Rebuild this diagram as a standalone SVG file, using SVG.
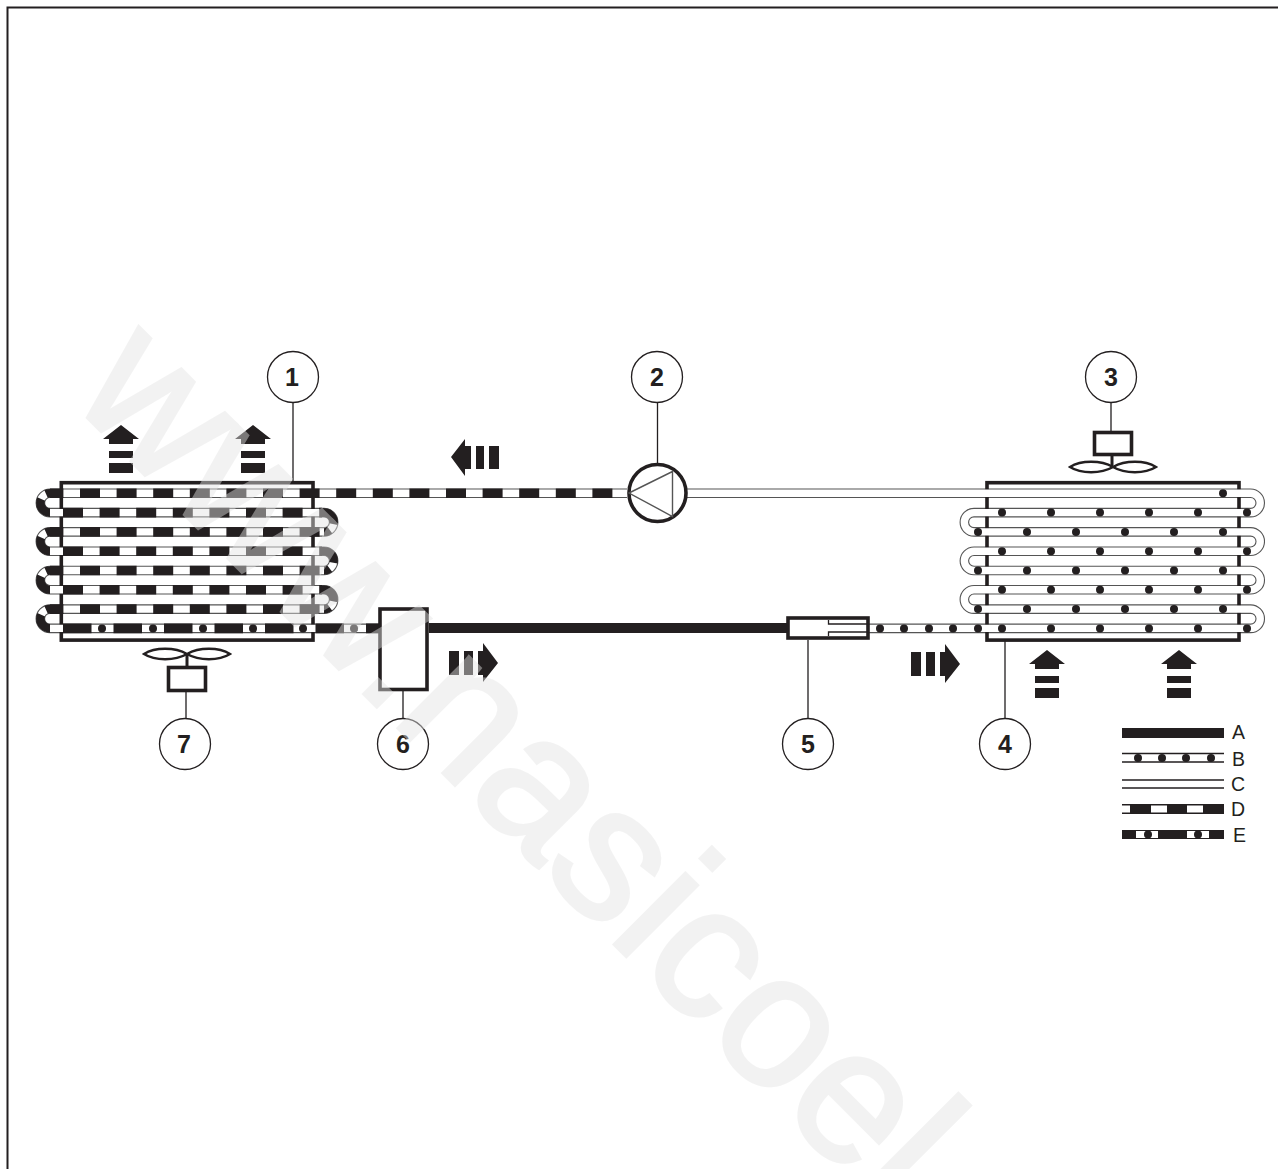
<svg xmlns="http://www.w3.org/2000/svg" xmlns:xlink="http://www.w3.org/1999/xlink" width="1278" height="1169" viewBox="0 0 1278 1169">
<style>
.frame{fill:none;stroke:#231f20;stroke-width:3.6}
.box{fill:#fff;stroke:#231f20;stroke-width:3.6}
.thin{fill:none;stroke:#231f20;stroke-width:1.3}
.outer{fill:none;stroke:#555;stroke-width:9.6}
.inner{fill:none;stroke:#fff;stroke-width:7.4}
.dd{fill:none;stroke:#231f20;stroke-width:9.6;stroke-dasharray:20 16.6}
.ee{fill:none;stroke:#231f20;stroke-width:9.6;stroke-dasharray:28.5 22}
.dot{fill:#231f20}
.ink{fill:#231f20}
.call{fill:#fff;stroke:#231f20;stroke-width:1.3}
.num{font:bold 25px "Liberation Sans",Arial,sans-serif;fill:#231f20;text-anchor:middle}
.leg{font:19.5px "Liberation Sans",Arial,sans-serif;fill:#231f20}
.wm{font:190px "Liberation Sans",Arial,sans-serif;fill:#e4e4e4;stroke:#e4e4e4;stroke-width:3.5;opacity:.45}
</style>
<defs>
<g id="dotsEven"><circle cx="1002" cy="0" r="4"/><circle cx="1051" cy="0" r="4"/><circle cx="1100" cy="0" r="4"/><circle cx="1149" cy="0" r="4"/><circle cx="1198" cy="0" r="4"/><circle cx="1247" cy="0" r="4"/></g>
<g id="dotsOdd"><circle cx="978" cy="0" r="4"/><circle cx="1027" cy="0" r="4"/><circle cx="1076" cy="0" r="4"/><circle cx="1125" cy="0" r="4"/><circle cx="1174" cy="0" r="4"/><circle cx="1223" cy="0" r="4"/></g>
<path id="upA" d="M0 0L18 14H12V19H-12V14H-18ZM-12 26H12V33H-12ZM-12 38H12V48H-12Z"/>
<path id="lens" d="M0 0C-12 -7 -32 -7 -43 0C-32 7 -12 7 0 0C12 -7 32 -7 43 0C32 7 12 7 0 0Z"/>
<path id="rtA" d="M0 0H10V24H0ZM15 0H24V24H15ZM29 0H34V-8L49 12L34 31V24H29Z"/>
</defs>
<path id="page-border" d="M1278 7.5H7.5V1169" fill="none" stroke="#231f20" stroke-width="2"/>

<g id="connectors">
<path class="thin" d="M293 403V482M657.500 403V463M1111 403V431M1005 641V718M808 640V718M403 690V718M186 691V718"/>
<rect class="ink" x="429" y="623" width="358" height="10"/>
<path class="outer" d="M627 493.300H50a9.650 9.650 0 0 0 0 19.300H324a9.650 9.650 0 0 1 0 19.300H50a9.650 9.650 0 0 0 0 19.300H324a9.650 9.650 0 0 1 0 19.300H50a9.650 9.650 0 0 0 0 19.300H324a9.650 9.650 0 0 1 0 19.300H50a9.650 9.650 0 0 0 0 19.300H380"/>
<path class="outer" d="M687 493.300H1250.600a9.650 9.650 0 0 1 0 19.300H974a9.650 9.650 0 0 0 0 19.300H1250.600a9.650 9.650 0 0 1 0 19.300H974a9.650 9.650 0 0 0 0 19.300H1250.600a9.650 9.650 0 0 1 0 19.300H974a9.650 9.650 0 0 0 0 19.300H1250.600a9.650 9.650 0 0 1 0 19.300H868"/>
</g>

<g id="node-condenser">
<rect class="frame" x="61.300" y="482.700" width="251.700" height="157.400"/>
<path class="inner" d="M627 493.300H50a9.650 9.650 0 0 0 0 19.300H324a9.650 9.650 0 0 1 0 19.300H50a9.650 9.650 0 0 0 0 19.300H324a9.650 9.650 0 0 1 0 19.300H50a9.650 9.650 0 0 0 0 19.300H324a9.650 9.650 0 0 1 0 19.300H50a9.650 9.650 0 0 0 0 19.300H380"/>
<path class="dd" stroke-dashoffset="6.600" d="M50 493.300H627M50 531.900H324M50 570.500H324M50 609.100H324"/>
<path class="dd" d="M63 512.600H322M63 551.200H322M63 589.800H322"/>
<path class="ee" d="M63 628.400H380"/>
<g fill="none" stroke="#231f20" stroke-width="8.600" stroke-dasharray="4 7 25">
<path d="M50 493.300a9.650 9.650 0 0 0 0 19.300"/><path d="M50 531.900a9.650 9.650 0 0 0 0 19.300"/><path d="M50 570.500a9.650 9.650 0 0 0 0 19.300"/><path d="M50 609.100a9.650 9.650 0 0 0 0 19.300"/>
</g>
<g fill="none" stroke="#231f20" stroke-width="8.600" stroke-dasharray="19 7 25">
<path d="M322 512.600h2a9.650 9.650 0 0 1 0 19.300"/><path d="M322 551.200h2a9.650 9.650 0 0 1 0 19.300"/><path d="M322 589.800h2a9.650 9.650 0 0 1 0 19.300"/>
</g>
<g class="dot"><circle cx="102" cy="628.400" r="4"/><circle cx="153" cy="628.400" r="4"/><circle cx="203" cy="628.400" r="4"/><circle cx="253" cy="628.400" r="4"/><circle cx="303" cy="628.400" r="4"/><circle cx="354" cy="628.400" r="4"/></g>
<g class="ink"><use href="#upA" x="121" y="425"/><use href="#upA" x="253" y="425"/></g>
</g>

<g id="node-evaporator">
<rect class="frame" x="987" y="482.700" width="252" height="157.400"/>
<path class="inner" d="M687 493.300H1250.600a9.650 9.650 0 0 1 0 19.300H974a9.650 9.650 0 0 0 0 19.300H1250.600a9.650 9.650 0 0 1 0 19.300H974a9.650 9.650 0 0 0 0 19.300H1250.600a9.650 9.650 0 0 1 0 19.300H974a9.650 9.650 0 0 0 0 19.300H1250.600a9.650 9.650 0 0 1 0 19.300H868"/>
<g class="dot">
<circle cx="1223" cy="493.300" r="4"/>
<use href="#dotsEven" y="512.600"/><use href="#dotsEven" y="551.200"/><use href="#dotsEven" y="589.800"/><use href="#dotsEven" y="628.400"/>
<use href="#dotsOdd" y="531.900"/><use href="#dotsOdd" y="570.500"/><use href="#dotsOdd" y="609.100"/>
<circle cx="978" cy="628.400" r="4"/><circle cx="953" cy="628.400" r="4"/><circle cx="929" cy="628.400" r="4"/><circle cx="904" cy="628.400" r="4"/><circle cx="880" cy="628.400" r="4"/>
</g>
<g class="ink"><use href="#upA" x="1047" y="650"/><use href="#upA" x="1179" y="650"/></g>
</g>

<g id="node-compressor">
<circle cx="657.500" cy="493" r="28.500" fill="#fff" stroke="#231f20" stroke-width="3.600"/>
<path d="M629 493L672.500 471.500V516.500Z" fill="none" stroke="#555" stroke-width="1.400"/>
</g>

<g id="node-fan-evaporator">
<path class="thin" d="M1112 456V467" style="stroke-width:3"/>
<rect class="box" x="1094.500" y="432.500" width="37" height="22"/>
<use href="#lens" x="1113" y="467" fill="#fff" stroke="#231f20" stroke-width="2.400"/>
</g>

<g id="node-fan-condenser">
<path class="thin" d="M187 654V667" style="stroke-width:3"/>
<rect class="box" x="168.500" y="667.500" width="37" height="23"/>
<use href="#lens" x="187" y="654" fill="#fff" stroke="#231f20" stroke-width="2.400"/>
</g>

<g id="node-receiver">
<rect class="box" x="380" y="609" width="47" height="80.500"/>
<use href="#rtA" x="449" y="651" class="ink"/>
</g>

<g id="node-expansion-valve">
<rect class="box" x="788" y="618" width="80" height="20"/>
<path class="thin" d="M868 624H828.500V620M868 632H828.500V636"/>
<use href="#rtA" x="911" y="652" class="ink"/>
</g>

<path id="flow-arrow-top" class="ink" d="M451 457L465 439V446H471V469H465V476ZM476 446H484V469H476ZM489 446H499V469H489Z"/>

<g id="callout-1"><circle class="call" cx="293" cy="377" r="25.500"/><text class="num" x="292" y="386">1</text></g>
<g id="callout-2"><circle class="call" cx="657" cy="377" r="25.500"/><text class="num" x="657" y="386">2</text></g>
<g id="callout-3"><circle class="call" cx="1111" cy="377" r="25.500"/><text class="num" x="1111" y="386">3</text></g>
<g id="callout-4"><circle class="call" cx="1005" cy="744" r="25.500"/><text class="num" x="1005" y="753">4</text></g>
<g id="callout-5"><circle class="call" cx="808" cy="744" r="25.500"/><text class="num" x="808" y="753">5</text></g>
<g id="callout-6"><circle class="call" cx="403" cy="744" r="25.500"/><text class="num" x="403" y="753">6</text></g>
<g id="callout-7"><circle class="call" cx="185" cy="744" r="25.500"/><text class="num" x="184" y="753">7</text></g>

<g id="legend">
<rect class="ink" x="1122" y="728" width="102" height="10"/>
<path class="thin" d="M1122 753.500H1224M1122 762H1224M1122 780H1224M1122 788H1224"/>
<g class="dot"><circle cx="1138" cy="758" r="4"/><circle cx="1162" cy="758" r="4"/><circle cx="1186" cy="758" r="4"/><circle cx="1211" cy="758" r="4"/></g>
<rect class="ink" x="1122" y="804" width="102" height="10"/>
<rect x="1122" y="805.500" width="8" height="7" fill="#fff"/><rect x="1151" y="805.500" width="16" height="7" fill="#fff"/><rect x="1187" y="805.500" width="16" height="7" fill="#fff"/>
<rect class="ink" x="1122" y="830" width="102" height="9"/>
<rect x="1136" y="831" width="22" height="7" fill="#fff"/><rect x="1187" y="831" width="22" height="7" fill="#fff"/>
<circle class="dot" cx="1148" cy="834.500" r="4"/><circle class="dot" cx="1198" cy="834.500" r="4"/>
<text class="leg" x="1232" y="739">A</text>
<text class="leg" x="1232" y="766">B</text>
<text class="leg" x="1231" y="791">C</text>
<text class="leg" x="1231" y="816">D</text>
<text class="leg" x="1233" y="842">E</text>
</g>

<text id="watermark" class="wm" transform="translate(68 398) rotate(45)">www.nasicoel</text>
</svg>
